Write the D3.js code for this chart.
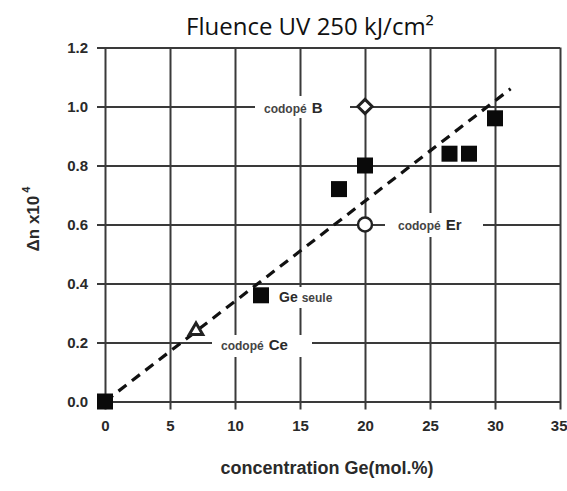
<!DOCTYPE html>
<html>
<head>
<meta charset="UTF-8">
<title>Fluence UV 250 kJ/cm²</title>
<script src="https://d3js.org/d3.v7.min.js"></script>
<style>
  body { margin: 0; background: #fff; }
  .tick text { font-family: "Liberation Sans", Arial, sans-serif; font-weight: bold; font-size: 15px; fill: #2a2a2a; }
  .lbl { font-family: "Liberation Sans", Arial, sans-serif; font-weight: bold; fill: #2a2a2a; }
</style>
</head>
<body>
<svg id="chart"></svg>
<script>
// data
const xTicks = [0, 5, 10, 15, 20, 25, 30, 35];
const yTicks = [0.0, 0.2, 0.4, 0.6, 0.8, 1.0, 1.2];

// Ge only samples (filled squares)
const geX = [0, 12, 18, 20, 26.5, 28, 30];
const geY = [0, 0.36, 0.72, 0.80, 0.84, 0.84, 0.96];

// codoped samples
const codopedB = [20, 1.0];
const codopedEr = [20, 0.6];
const codopedCe = [7, 0.24];

// dashed trend line end points
const trendX = [0, 31.2];
const trendY = [0, 1.06];

const width = 567, height = 491;
const margin = {top: 47.5, right: 7, bottom: 89.5, left: 105};

const svg = d3.select("#chart").attr("width", width).attr("height", height);

const x = d3.scaleLinear().domain([0, 35]).range([margin.left, width - margin.right]);
const y = d3.scaleLinear().domain([0, 1.2]).range([height - margin.bottom, margin.top]);

// title
svg.append("text")
    .attr("x", 310).attr("y", 35)
    .attr("text-anchor", "middle")
    .style("font-family", "'Open Sans', sans-serif")
    .style("font-size", "24px")
    .style("fill", "#111")
    .text("Fluence UV 250 kJ/cm²");

// grid via axes
svg.append("g")
    .attr("transform", "translate(0," + y(0) + ")")
    .call(d3.axisBottom(x).tickValues(xTicks).tickFormat(d3.format("d")))
    .call(g => g.select(".domain").remove())
    .call(g => g.selectAll(".tick line").attr("stroke", "#3a3a3a").attr("stroke-width", 2).attr("y2", -(y(0) - y(1.2))).attr("y1", 8))
    .call(g => g.selectAll(".tick text").attr("y", 19).attr("dy", "0.71em"))
    // last label sits at the right edge, keep it inside the window
    .call(g => g.selectAll(".tick text").filter(d => d === 35).attr("text-anchor", "end").attr("x", 7));

svg.append("g")
    .attr("transform", "translate(" + x(0) + ",0)")
    .call(d3.axisLeft(y).tickValues(yTicks).tickFormat(d3.format(".1f")))
    .call(g => g.select(".domain").remove())
    .call(g => g.selectAll(".tick line").attr("stroke", "#3a3a3a").attr("stroke-width", 2).attr("x1", -8).attr("x2", x(35) - x(0)))
    .call(g => g.selectAll(".tick text").attr("x", -17));

// white boxes behind annotations (break the grid lines)
const boxes = [
  [255, 96, 95, 22],
  [385, 213, 98, 24],
  [275, 287, 75, 21],
  [212, 335, 100, 22]
];
svg.selectAll("rect.bg").data(boxes).join("rect")
    .attr("class", "bg")
    .attr("x", d => d[0]).attr("y", d => d[1])
    .attr("width", d => d[2]).attr("height", d => d[3])
    .attr("fill", "#fff");

// annotations
function note(xp, yp, small, big, bigFirst) {
  const t = svg.append("text").attr("class", "lbl").attr("x", xp).attr("y", yp);
  if (bigFirst) {
    t.append("tspan").style("font-size", "14px").text(big);
    t.append("tspan").style("font-size", "12px").attr("dx", 4).style("fill", "#444").text(small);
  } else {
    t.append("tspan").style("font-size", "12px").style("fill", "#444").text(small);
    t.append("tspan").style("font-size", "15px").attr("dx", 5).text(big);
  }
}
note(264, 113, "codopé", "B", false);
note(398, 230, "codopé", "Er", false);
note(279, 302, "seule", "Ge", true);
note(221, 350, "codopé", "Ce", false);

// trend line
svg.append("line")
    .attr("x1", x(trendX[0])).attr("y1", y(trendY[0]))
    .attr("x2", x(trendX[1])).attr("y2", y(trendY[1]))
    .attr("stroke", "#111").attr("stroke-width", 3.2)
    .attr("stroke-dasharray", "10,7");

// Ge squares
const sq = 16;
svg.selectAll("rect.ge").data(geX.map((d, i) => [d, geY[i]])).join("rect")
    .attr("class", "ge")
    .attr("x", d => x(d[0]) - sq / 2).attr("y", d => y(d[1]) - sq / 2)
    .attr("width", sq).attr("height", sq)
    .attr("fill", "#0a0a0a");

// codoped B (open diamond)
svg.append("path")
    .attr("d", d3.symbol(d3.symbolDiamond2, 130)())
    .attr("transform", "translate(" + x(codopedB[0]) + "," + y(codopedB[1]) + ")")
    .attr("fill", "#fff").attr("stroke", "#222").attr("stroke-width", 3);

// codoped Er (open circle)
svg.append("circle")
    .attr("cx", x(codopedEr[0])).attr("cy", y(codopedEr[1])).attr("r", 7)
    .attr("fill", "#fff").attr("stroke", "#222").attr("stroke-width", 2.5);

// codoped Ce (open triangle)
svg.append("path")
    .attr("d", d3.symbol(d3.symbolTriangle2, 130)())
    .attr("transform", "translate(" + x(codopedCe[0]) + "," + y(codopedCe[1]) + ")")
    .attr("fill", "#fff").attr("stroke", "#222").attr("stroke-width", 3);

// axis titles
svg.append("text")
    .attr("class", "lbl")
    .attr("x", 327).attr("y", 474)
    .attr("text-anchor", "middle")
    .style("font-size", "18px")
    .text("concentration Ge(mol.%)");

const yl = svg.append("text")
    .attr("class", "lbl")
    .attr("transform", "translate(39,219) rotate(-90)")
    .attr("text-anchor", "middle")
    .style("font-size", "17px");
yl.append("tspan").text("Δn x10");
yl.append("tspan").attr("dx", 3).attr("dy", -9).style("font-size", "11px").text("4");
</script>
</body>
</html>
